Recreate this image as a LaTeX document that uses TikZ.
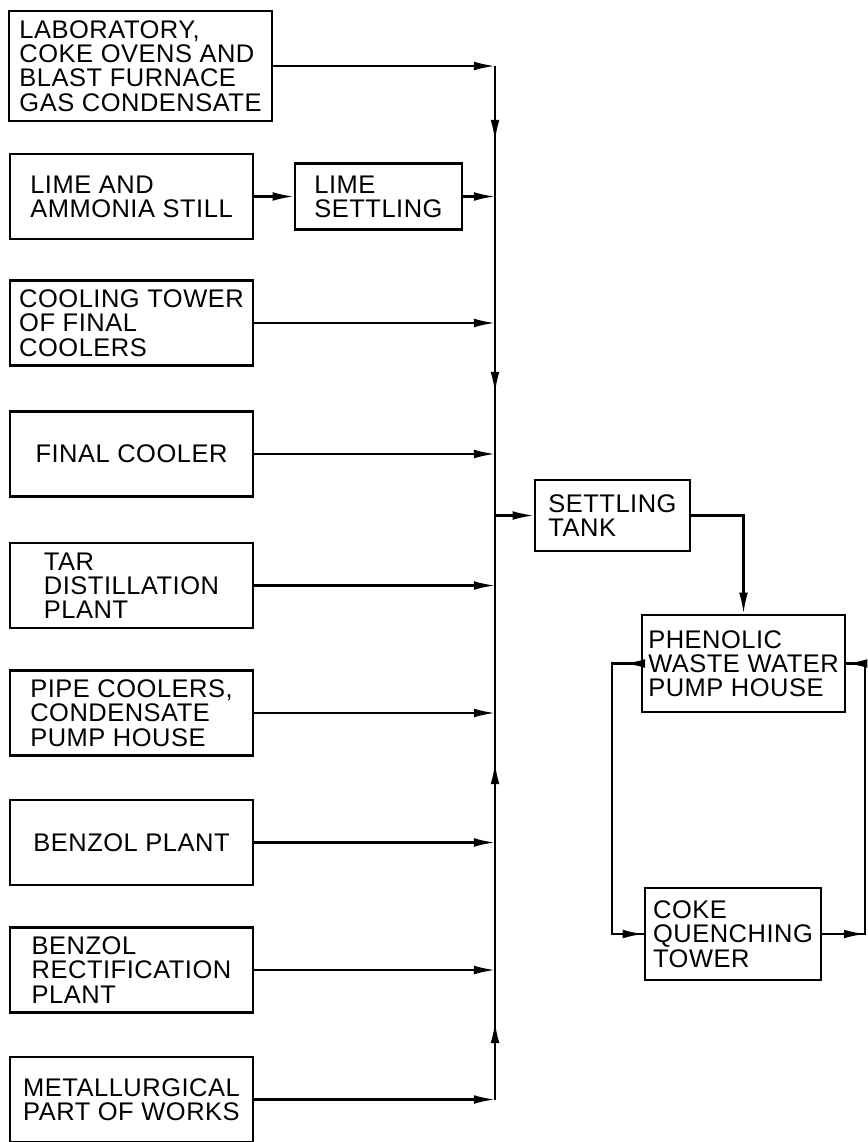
\documentclass[tikz,border=0pt]{standalone}
\usepackage{fontspec}
\setmainfont[LetterSpace=2]{Liberation Sans}
\usetikzlibrary{arrows.meta}

\tikzset{
  unit/.style={draw, line width=1.5pt, align=left, inner sep=1.5pt,
    font=\fontsize{14.5pt}{13.8pt}\selectfont},
  source/.style={unit, minimum width=4.86cm, minimum height=1.7cm},
  main/.style={line width=1.2pt},
  flow/.style={main, -{Latex[length=12pt,width=5pt]}}
}

\begin{document}
\begin{tikzpicture}[x=0.02cm, y=-0.02cm]
  \useasboundingbox (0,0) rectangle (868,1142);

  % Sources on the left
  \node[unit, minimum width=5.26cm, minimum height=2.2cm] (lab) at (140.5,66) {LABORATORY,\\COKE OVENS AND\\BLAST FURNACE\\GAS CONDENSATE};
  \node[source] (lime) at (131.5,196.5) {LIME AND\\AMMONIA STILL};
  \node[unit, minimum width=3.34cm, minimum height=1.32cm] (lset) at (378.5,196.5) {LIME\\SETTLING};
  \node[source] (cool) at (131.5,323) {COOLING TOWER\\OF FINAL\\COOLERS};
  \node[source] (final) at (131.5,454) {FINAL COOLER};
  \node[source] (tar) at (131.5,585.5) {TAR\\DISTILLATION\\PLANT};
  \node[source] (pipec) at (131.5,713) {PIPE COOLERS,\\CONDENSATE\\PUMP HOUSE};
  \node[source] (benzp) at (131.5,842.5) {BENZOL PLANT};
  \node[source] (benzr) at (131.5,970) {BENZOL\\RECTIFICATION\\PLANT};
  \node[source] (metal) at (131.5,1099.5) {METALLURGICAL\\PART OF WORKS};

  % Treatment and recirculation
  \node[unit, minimum width=3.1cm, minimum height=1.42cm] (tank) at (612.5,515.5) {SETTLING\\TANK};
  \node[unit, minimum width=4.06cm, minimum height=1.94cm] (phen) at (743.5,663.5) {PHENOLIC\\WASTE WATER\\PUMP HOUSE};
  \node[unit, minimum width=3.52cm, minimum height=1.84cm] (coke) at (733,934) {COKE\\QUENCHING\\TOWER};

  % Collecting main
  \coordinate (bus) at (495,0);
  \coordinate (d1) at (495,141);
  \coordinate (d2) at (495,393);
  \coordinate (u1) at (495,763);
  \coordinate (u2) at (495,1022);
  \coordinate (lx) at (612,0);
  \coordinate (la) at (624,0);
  \coordinate (rx) at (865,0);

  % Feeds into the main
  \draw[flow] (lab.east) -- (lab.east -| bus);
  \draw[flow] (lime.east) -- (lset.west);
  \draw[flow] (lset.east) -- (lset.east -| bus);
  \draw[flow] (cool.east) -- (cool.east -| bus);
  \draw[flow] (final.east) -- (final.east -| bus);
  \draw[flow] (tar.east) -- (tar.east -| bus);
  \draw[flow] (pipec.east) -- (pipec.east -| bus);
  \draw[flow] (benzp.east) -- (benzp.east -| bus);
  \draw[flow] (benzr.east) -- (benzr.east -| bus);
  \draw[flow] (metal.east) -- (metal.east -| bus);

  % Main runs down from the top and up from the bottom
  \draw[main] (lab.east -| bus) -- (metal.east -| bus);
  \draw[flow] (lab.east -| bus) -- (d1);
  \draw[flow] (d1) -- (d2);
  \draw[flow] (metal.east -| bus) -- (u2);
  \draw[flow] (u2) -- (u1);
  \draw[flow] (tank.west -| bus) -- (tank.west);

  % Settling tank to pump house
  \draw[flow] (tank.east) -| (phen.north);

  % Loop through the quenching tower
  \draw[main] (phen.west) -- (phen.west -| lx) -- (coke.west -| lx) -- (coke.west);
  \draw[flow] (phen.west) -- (phen.west -| la);
  \draw[flow] (coke.west -| lx) -- (coke.west);
  \draw[main] (coke.east) -- (coke.east -| rx) -- (phen.east -| rx) -- (phen.east);
  \draw[flow] (coke.east) -- (coke.east -| rx);
  \draw[flow] (phen.east -| rx) -- (phen.east);
\end{tikzpicture}
\end{document}
